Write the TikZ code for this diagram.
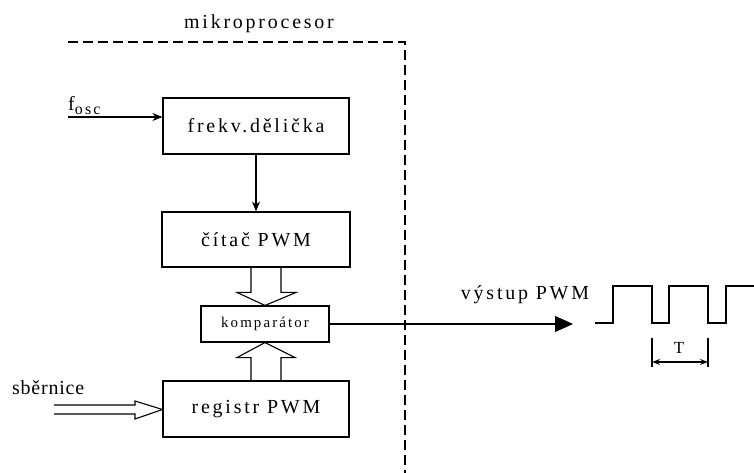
\documentclass[tikz,border=0pt]{standalone}
\usepackage{fontspec}
\setmainfont[LetterSpace=14]{Liberation Serif}
\usetikzlibrary{arrows.meta,calc}
\tikzset{
  blk/.style={draw, line width=1.1bp, inner sep=0pt, font=\fontsize{20}{23}\selectfont},
  lbl/.style={inner sep=0pt, font=\fontsize{20}{23}\selectfont},
  wire/.style={line width=1.1bp},
  hollow/.style={line width=1.1bp, line join=miter},
  boundary/.style={line width=1.1bp, dash pattern=on 10bp off 5bp},
}
\begin{document}
\begin{tikzpicture}[x=1bp, y=-1bp]
\useasboundingbox (0,0) rectangle (754,473);

% microprocessor boundary (top and right edges)
\draw[boundary] (68,42) -- (405,42) -- (405,473);
\node[lbl, anchor=base] (mp) at (259,29) {mikroprocesor};

% blocks
\node[blk, minimum width=186bp, minimum height=56bp] (div) at (256,126) {frekv.dělička};
\node[blk, minimum width=188bp, minimum height=55bp] (cnt) at (256,239.5) {čítač PWM};
\node[blk, minimum width=128bp, minimum height=36bp, font=\fontsize{15}{18}\selectfont] (cmp) at (265,324) {komparátor};
\node[blk, minimum width=186bp, minimum height=56bp] (reg) at (256,409) {registr PWM};

% oscillator input
\coordinate (oscin) at (68,117);
\node[lbl, anchor=base west] (fosc) at (68,111) {f\textsubscript{\fontsize{16}{18}\selectfont osc}};
\draw[wire, -{Stealth[length=10bp, width=8bp]}] (oscin) -- (oscin -| div.west);

% divider -> counter
\draw[wire, -{Stealth[length=10bp, width=8bp]}] (div.south) -- (cnt.north);

% counter => comparator (hollow bus arrow)
\draw[hollow] ($(cnt.south)+(-5,0)$) -- ($(cmp.north)+(-14,-13)$) -- ($(cmp.north)+(-28,-13)$)
  -- (cmp.north) -- ($(cmp.north)+(31,-13)$) -- ($(cmp.north)+(16,-13)$) -- ($(cnt.south)+(25,0)$);

% register => comparator (hollow bus arrow)
\draw[hollow] ($(reg.north)+(-5,0)$) -- ($(cmp.south)+(-14,15)$) -- ($(cmp.south)+(-28,15)$)
  -- (cmp.south) -- ($(cmp.south)+(30,15)$) -- ($(cmp.south)+(16,15)$) -- ($(reg.north)+(25,0)$);

% data bus input
\node[lbl, anchor=base west, font=\fontsize{20}{23}\selectfont\addfontfeature{LetterSpace=4}] (bus) at (12,394) {sběrnice};
\coordinate (busin) at (54,409.5);
\draw[hollow] ($(busin)+(0,-4.5)$) -- ($(busin)+(81,-4.5)$) -- ($(busin)+(81,-8.5)$)
  -- (busin -| reg.west) -- ($(busin)+(81,9.5)$) -- ($(busin)+(81,4.5)$) -- ($(busin)+(0,4.5)$);

% PWM output
\coordinate (out) at (573,324);
\draw[wire, -{Triangle[length=18bp, width=16bp]}] (cmp.east) -- (out);
\node[lbl, anchor=base] (outlbl) at (525,300) {výstup PWM};

% output waveform
\draw[wire] (595,323) -- (613,323) -- (613,286) -- (652,286) -- (652,323) -- (669,323)
  -- (669,286) -- (708,286) -- (708,323) -- (726,323) -- (726,286) -- (754,286);

% period marking
\coordinate (pa) at (652,362);
\coordinate (pb) at (708,362);
\draw[wire] (652,338) -- (652,367);
\draw[wire] (708,338) -- (708,367);
\draw[wire, {Stealth[length=8bp, width=6bp]}-{Stealth[length=8bp, width=6bp]}] (pa) -- (pb);
\node[inner sep=0pt, font=\fontsize{17}{19}\selectfont, anchor=base] (per) at (679,354) {T};
\end{tikzpicture}
\end{document}
